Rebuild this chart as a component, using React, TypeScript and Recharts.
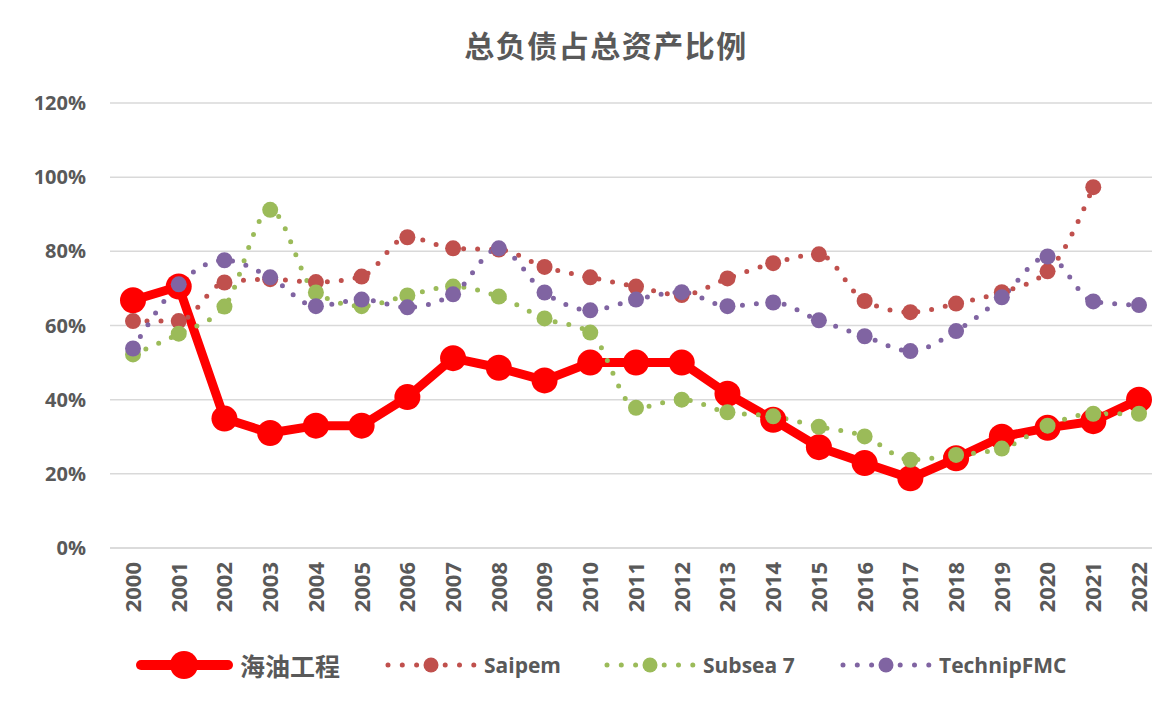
import React from 'react';
import { LineChart, Line, XAxis, YAxis, CartesianGrid } from 'recharts';

const years = [
  '2000', '2001', '2002', '2003', '2004', '2005', '2006', '2007', '2008', '2009', '2010', '2011',
  '2012', '2013', '2014', '2015', '2016', '2017', '2018', '2019', '2020', '2021', '2022',
];

// 总负债 / 总资产 (%)
const cooec = [66.8, 70.5, 34.9, 31.0, 33.0, 33.0, 40.7, 51.2, 48.6, 45.2, 50.0, 50.0, 50.0, 41.6, 34.6, 27.2, 22.9, 18.8, 24.2, 30.0, 32.4, 34.2, 40.0];
const saipem = [61.2, 61.2, 71.6, 72.5, 71.7, 73.2, 83.8, 80.8, 80.5, 75.8, 73.0, 70.5, 68.2, 72.7, 76.8, 79.2, 66.6, 63.6, 65.9, 69.0, 74.6, 97.3, null];
const subsea7 = [52.2, 57.8, 65.1, 91.2, 68.9, 65.2, 68.1, 70.5, 67.8, 61.9, 58.1, 37.8, 40.0, 36.6, 35.5, 32.7, 30.1, 23.8, 25.1, 26.8, 33.0, 36.2, 36.2];
const technip = [53.8, 71.1, 77.6, 73.0, 65.2, 67.0, 64.9, 68.4, 80.8, 68.9, 64.1, 67.0, 69.0, 65.2, 66.2, 61.4, 57.1, 53.1, 58.5, 67.6, 78.6, 66.5, 65.5];

const yTicks = [0, 20, 40, 60, 80, 100, 120];

const data = years.map((year, i) => ({
  year,
  海油工程: cooec[i],
  Saipem: saipem[i],
  'Subsea 7': subsea7[i],
  TechnipFMC: technip[i],
}));

const RED = '#FF0000';
const SAIPEM = '#C0504D';
const SUBSEA = '#9BBB59';
const TECHNIP = '#8064A2';
const TEXT = '#595959';
const GRID = '#D9D9D9';

const XTick = (props: any) => {
  const { x, y, payload } = props;
  return (
    <text
      x={x}
      y={y}
      transform={`rotate(-90 ${x} ${y})`}
      textAnchor="end"
      dy="0.36em"
      fontSize={22}
      fontWeight={700}
      fontFamily="'Open Sans', sans-serif"
      fill={TEXT}
    >
      {payload.value}
    </text>
  );
};

const dottedSample = (color: string) => (
  <svg width={96} height={24} style={{ display: 'block' }}>
    <line x1={6} y1={12} x2={92} y2={12} stroke={color} strokeWidth={5} strokeLinecap="round" strokeDasharray="0 14.3" />
    <circle cx={49} cy={12} r={7.5} fill={color} />
  </svg>
);

const legendItems = [
  {
    name: '海油工程',
    left: 126,
    sample: (
      <svg width={100} height={32} style={{ display: 'block' }}>
        <line x1={7} y1={16} x2={94} y2={16} stroke={RED} strokeWidth={10} strokeLinecap="round" />
        <circle cx={50} cy={16} r={14} fill={RED} />
      </svg>
    ),
    font: "'Noto Sans CJK SC', sans-serif",
    size: 25,
    weight: 700,
  },
  { name: 'Saipem', left: 374, sample: dottedSample(SAIPEM), font: "'Open Sans', sans-serif", size: 21, weight: 700 },
  { name: 'Subsea 7', left: 593, sample: dottedSample(SUBSEA), font: "'Open Sans', sans-serif", size: 21, weight: 700 },
  { name: 'TechnipFMC', left: 829, sample: dottedSample(TECHNIP), font: "'Open Sans', sans-serif", size: 21, weight: 700 },
];

const App: React.FC = () => {
  return (
    <div style={{ position: 'relative', width: 1152, height: 693, borderLeft: `1px solid ${GRID}`, marginLeft: -1, background: '#fff' }}>
      <div
        style={{
          position: 'absolute',
          top: 14,
          left: 0,
          width: 1196,
          textAlign: 'center',
          fontFamily: "'Noto Sans CJK SC', sans-serif",
          fontSize: 30,
          fontWeight: 700,
          letterSpacing: 1.5,
          color: TEXT,
        }}
      >
        总负债占总资产比例
      </div>
      <LineChart width={1152} height={693} data={data} margin={{ top: 95, right: 0, bottom: 0, left: 0 }}>
        <CartesianGrid vertical={false} stroke={GRID} strokeWidth={1.5} />
        <XAxis
          dataKey="year"
          height={153}
          padding={{ left: 23, right: 21 }}
          interval={0}
          tickLine={false}
          tickSize={0}
          tickMargin={14}
          axisLine={{ stroke: GRID, strokeWidth: 1.5 }}
          tick={<XTick />}
        />
        <YAxis
          width={102}
          domain={[0, 120]}
          ticks={yTicks}
          interval={0}
          axisLine={false}
          tickLine={false}
          tickSize={0}
          tickMargin={24}
          tickFormatter={(v) => `${v}%`}
          tick={{ fill: TEXT, fontSize: 20, fontWeight: 700, fontFamily: "'Open Sans', sans-serif" }}
        />
        <Line
          type="linear"
          dataKey="海油工程"
          stroke={RED}
          strokeWidth={9}
          strokeLinejoin="round"
          dot={{ r: 13, fill: RED, stroke: 'none' }}
          isAnimationActive={false}
        />
        <Line
          type="monotone"
          dataKey="Saipem"
          stroke={SAIPEM}
          strokeWidth={5}
          strokeLinecap="round"
          strokeDasharray="0 14"
          dot={{ r: 8, fill: SAIPEM, stroke: 'none', strokeDasharray: 'none' }}
          isAnimationActive={false}
        />
        <Line
          type="monotone"
          dataKey="Subsea 7"
          stroke={SUBSEA}
          strokeWidth={5}
          strokeLinecap="round"
          strokeDasharray="0 14"
          dot={{ r: 8, fill: SUBSEA, stroke: 'none', strokeDasharray: 'none' }}
          isAnimationActive={false}
        />
        <Line
          type="monotone"
          dataKey="TechnipFMC"
          stroke={TECHNIP}
          strokeWidth={5}
          strokeLinecap="round"
          strokeDasharray="0 14"
          dot={{ r: 8, fill: TECHNIP, stroke: 'none', strokeDasharray: 'none' }}
          isAnimationActive={false}
        />
      </LineChart>
      {legendItems.map((item) => (
        <div
          key={item.name}
          style={{ position: 'absolute', left: item.left, top: 641, height: 32, display: 'flex', alignItems: 'center', gap: 6 }}
        >
          {item.sample}
          <span style={{ fontFamily: item.font, fontSize: item.size, fontWeight: item.weight, color: TEXT, whiteSpace: 'nowrap' }}>
            {item.name}
          </span>
        </div>
      ))}
    </div>
  );
};

export default App;
